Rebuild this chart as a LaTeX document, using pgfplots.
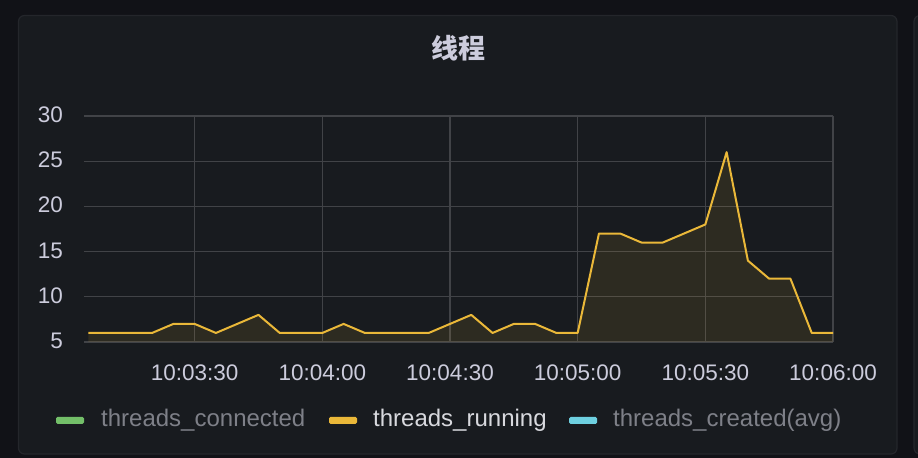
\documentclass[border=0pt]{standalone}
\usepackage{pgfplots}
\usepackage{pgfplotstable}
\pgfplotsset{compat=1.18}
\usepackage{fontspec}
\setmainfont{Liberation Sans}
\newfontfamily\cjk{Noto Sans CJK SC}
\definecolor{outerbg}{HTML}{111217}
\definecolor{panelbg}{HTML}{181B1F}
\definecolor{panelborder}{HTML}{24262B}
\definecolor{gridc}{HTML}{414347}
\definecolor{txt}{HTML}{CCCCDC}
\definecolor{txtdim}{HTML}{7E8088}
\definecolor{txtact}{HTML}{D8D9DE}
\definecolor{orangeline}{HTML}{EAB839}
\definecolor{greenc}{HTML}{73BF69}
\definecolor{cyanc}{HTML}{6ED0E0}
\pgfplotstableread{
x y
5 6
10 6
15 6
20 6
25 7
30 7
35 6
40 7
45 8
50 6
55 6
60 6
65 7
70 6
75 6
80 6
85 6
90 7
95 8
100 6
105 7
110 7
115 6
120 6
125 17
130 17
135 16
140 16
145 17
150 18
155 26
160 14
165 12
170 12
175 6
180 6
}\running
\begin{document}
\begin{tikzpicture}[x=1bp,y=1bp]
\useasboundingbox (0,0) rectangle (918,458);
\fill[outerbg] (0,0) rectangle (918,458);
\filldraw[fill=panelbg, draw=panelborder, line width=1.2bp, rounded corners=6bp] (18.5,4) rectangle (897,442.5);
\filldraw[fill=panelbg, draw=panelborder, line width=1.2bp, rounded corners=6bp] (914,4) rectangle (940,442.5);
\node[color=txt, font=\cjk\bfseries\fontsize{27bp}{30bp}\selectfont] at (458,410) {线程};
\begin{axis}[
  at={(84bp,116bp)}, anchor=south west,
  scale only axis, width=749bp, height=226bp,
  xmin=4, xmax=180, ymin=5, ymax=30,
  xtick={30,60,90,120,150,180},
  xticklabels={10:03:30,10:04:00,10:04:30,10:05:00,10:05:30,10:06:00},
  ytick={5,10,15,20,25,30},
  grid=major,
  major grid style={color=gridc, line width=1.3bp},
  axis line style={draw=none},
  major tick length=0pt,
  tick style={draw=none},
  /pgf/number format/assume math mode=true,
  ticklabel style={font=\fontsize{22.5bp}{27bp}\selectfont, color=txt, inner sep=0pt},
  xticklabel style={anchor=base, yshift=-39bp},
  yticklabel style={anchor=base east, xshift=-21bp, yshift=-6.6bp},
]
\addplot[draw=none, fill=orangeline, fill opacity=0.1] table {\running} \closedcycle;
\addplot[draw=orangeline, line width=2bp, line join=round] table {\running};
\end{axis}
\fill[greenc, rounded corners=1.5bp] (56,34) rectangle (84,41);
\node[anchor=base west, inner sep=0pt, color=txtdim, font=\fontsize{24bp}{28bp}\selectfont] at (101,31.3) {threads\_connected};
\fill[orangeline, rounded corners=1.5bp] (329,34) rectangle (357,41);
\node[anchor=base west, inner sep=0pt, color=txtact, font=\fontsize{24bp}{28bp}\selectfont] at (373,31.3) {threads\_running};
\fill[cyanc, rounded corners=1.5bp] (569,34) rectangle (597,41);
\node[anchor=base west, inner sep=0pt, color=txtdim, font=\fontsize{24bp}{28bp}\selectfont] at (613,31.3) {threads\_created(avg)};
\end{tikzpicture}
\end{document}
